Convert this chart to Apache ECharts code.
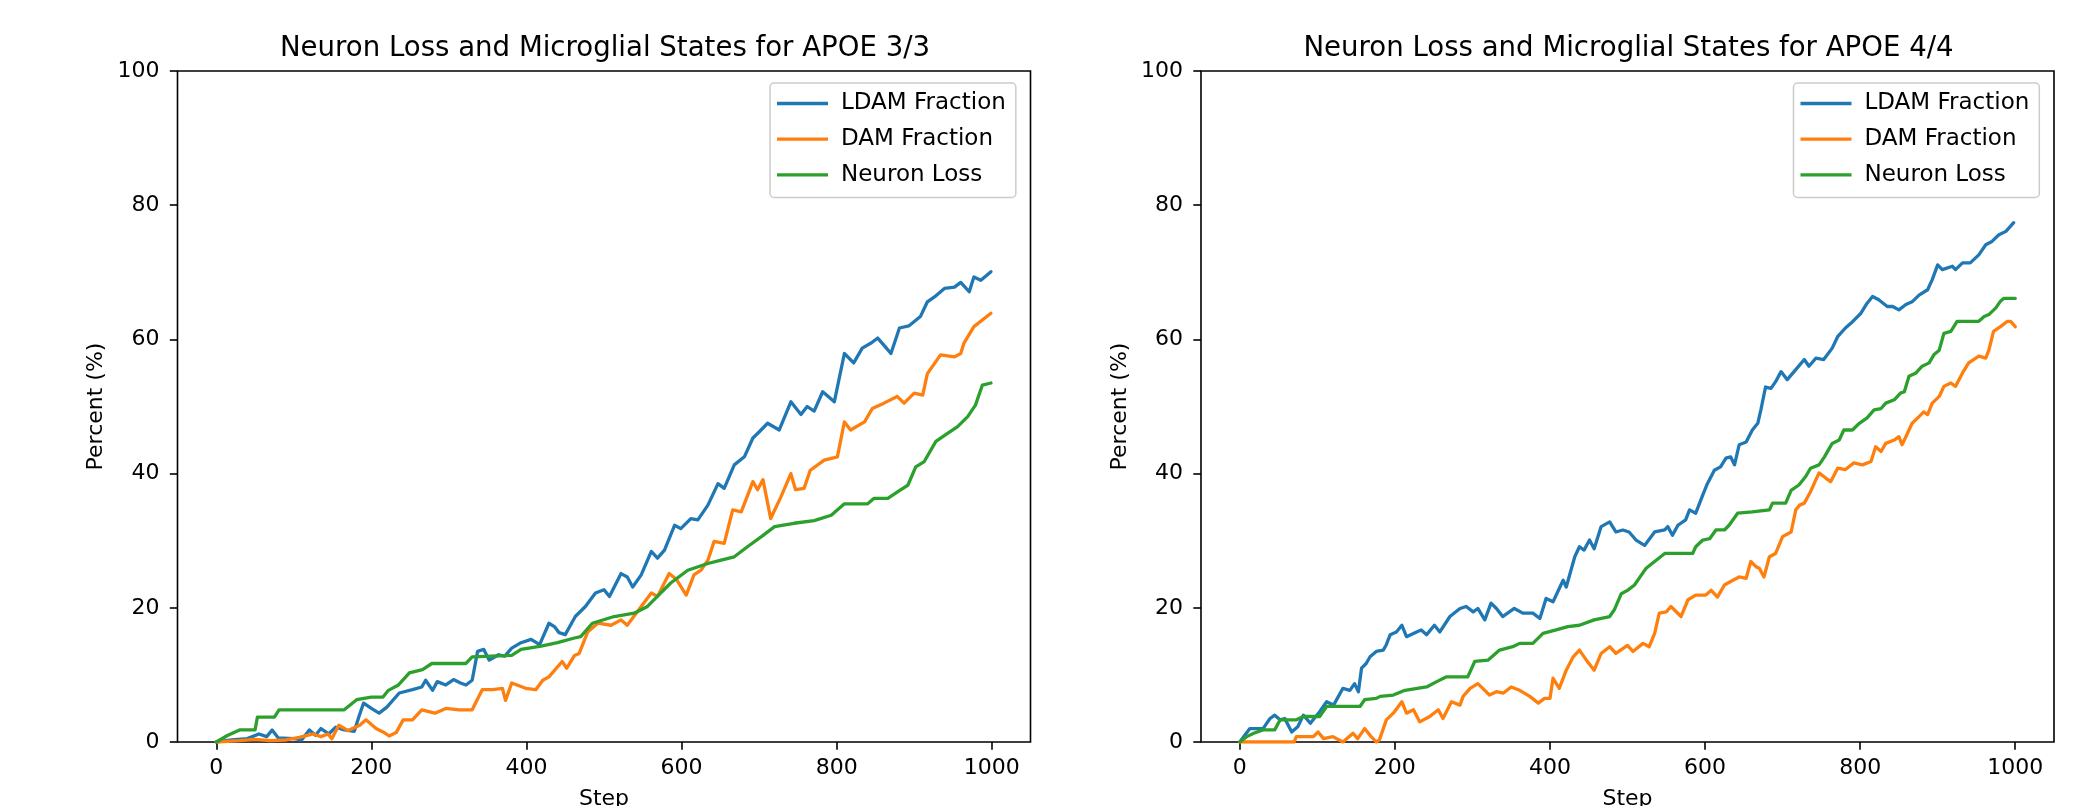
<!DOCTYPE html>
<html>
<head>
<meta charset="utf-8">
<script src="https://cdn.jsdelivr.net/npm/echarts@6/dist/echarts.min.js"></script>
<style>
html,body{margin:0;padding:0;background:#fff;}
#chart{width:2090px;height:806px;}
</style>
</head>
<body>
<div id="chart"></div>
<script>
// ---------- Titles / labels ----------
const titles = ['Neuron Loss and Microglial States for APOE 3/3', 'Neuron Loss and Microglial States for APOE 4/4'];
const seriesNames = ['LDAM Fraction', 'DAM Fraction', 'Neuron Loss'];
const xTickValues = [0, 200, 400, 600, 800, 1000];
const yTickValues = [0, 20, 40, 60, 80, 100];

// ---------- APOE 3/3 ----------
const ldam33Steps = [0,20,40,55,65,72,80,100,110,120,128,135,145,154,165,178,184,190,200,210,220,236,253,265,270,279,285,296,306,315,322,330,337,345,352,364,372,381,393,406,417,429,436,442,450,463,476,489,500,507,522,530,537,548,561,569,578,591,599,612,621,634,647,655,668,681,692,700,711,726,741,754,762,771,782,797,810,822,833,845,853,862,870,881,893,908,917,928,939,952,960,971,977,986,999];
const ldam33 = [0,0.3,0.5,1.2,0.8,1.8,0.6,0.5,0.3,1.8,1.0,2.0,1.2,2.2,1.8,1.6,3.8,5.8,5.0,4.3,5.2,7.3,7.8,8.2,9.2,7.7,9.0,8.5,9.3,8.8,8.5,9.2,13.5,13.8,12.2,13.0,12.8,14.0,14.8,15.3,14.5,17.7,17.2,16.3,16.0,18.7,20.2,22.2,22.7,21.7,25.1,24.6,23.1,24.9,28.4,27.4,28.6,32.3,31.8,33.3,33.1,35.3,38.5,37.8,41.3,42.5,45.3,46.2,47.5,46.5,50.7,48.8,50.0,49.3,52.2,50.7,57.9,56.5,58.7,59.5,60.2,59.0,57.9,61.7,62.0,63.4,65.6,66.5,67.6,67.8,68.5,67.1,69.3,68.8,70.1];

const dam33Steps = [0,30,50,70,90,107,125,135,144,149,158,170,185,193,206,215,223,232,241,253,265,282,296,313,330,343,356,369,373,381,399,412,421,429,446,452,462,468,479,492,509,522,530,548,561,569,584,593,606,616,625,634,642,655,666,677,692,698,705,715,728,741,747,758,766,784,801,810,818,836,846,861,878,887,900,911,917,934,952,960,964,977,999];
const dam33 = [0,0.2,0.4,0.2,0.3,0.7,1.2,0.8,1.2,0.5,2.5,1.7,2.5,3.3,2.0,1.5,0.9,1.4,3.3,3.3,4.8,4.3,5.0,4.8,4.8,7.8,7.8,8.0,6.2,8.8,8.0,7.8,9.2,9.7,12.0,11.0,12.9,13.2,16.4,17.7,17.4,18.2,17.4,20.2,22.2,21.7,25.1,24.3,21.9,24.9,25.6,27.1,29.9,29.6,34.6,34.3,38.8,37.6,39.1,33.3,36.5,40.0,37.6,37.8,40.5,42.0,42.5,47.7,46.5,47.7,49.7,50.5,51.5,50.5,52.0,51.7,54.9,57.7,57.4,57.9,59.4,61.9,63.9];

const loss33Steps = [0,15,30,50,53,75,81,165,181,200,215,222,235,249,266,278,322,330,381,393,419,440,462,470,485,513,539,556,573,586,608,634,651,668,685,703,720,745,771,793,810,840,848,866,879,892,902,913,928,943,956,969,979,988,999];
const loss33 = [0,1.0,1.8,1.8,3.7,3.7,4.8,4.8,6.3,6.7,6.7,7.7,8.5,10.3,10.8,11.7,11.7,12.7,12.9,13.8,14.3,14.8,15.5,15.7,17.7,18.7,19.2,20.2,22.2,23.7,25.6,26.6,27.1,27.6,29.1,30.6,32.1,32.6,33.0,33.8,35.5,35.5,36.3,36.3,37.3,38.3,41.0,41.8,44.8,46.0,47.0,48.5,50.2,53.2,53.5];

// ---------- APOE 4/4 ----------
const ldam44Steps = [0,13,30,39,45,52,58,67,75,82,91,103,112,121,133,142,148,153,157,163,168,176,185,189,194,202,209,215,228,234,241,251,258,271,284,292,301,307,316,324,331,339,354,365,378,387,395,404,417,421,432,438,444,451,457,466,477,485,494,502,511,522,535,548,552,558,565,575,580,588,597,603,612,620,627,633,638,644,653,661,668,672,678,685,691,698,706,717,728,734,743,753,764,771,781,788,801,809,816,824,835,842,850,859,867,876,887,893,900,906,919,923,932,942,953,962,970,979,988,998];
const ldam44 = [0,2.0,2.0,3.5,4.0,3.3,3.5,1.5,2.3,4.0,2.8,4.5,6.0,5.5,8.0,7.7,8.7,7.5,11.0,11.7,12.7,13.5,13.7,14.5,16.0,16.4,17.4,15.7,16.4,16.7,16.0,17.4,16.4,18.7,19.9,20.2,19.4,19.9,18.2,20.7,19.9,18.7,19.9,19.2,19.2,18.4,21.4,20.9,24.1,23.1,27.6,29.1,28.6,30.1,28.8,32.1,32.8,31.3,31.6,31.3,30.1,29.3,31.3,31.6,32.1,30.8,32.3,33.1,34.6,34.1,36.8,38.5,40.5,41.0,42.3,42.5,41.3,44.3,44.7,46.5,47.5,49.5,52.9,52.7,53.7,55.2,54.0,55.5,57.0,56.0,57.2,57.0,58.7,60.4,61.7,62.4,63.9,65.4,66.4,65.9,64.9,64.9,64.4,65.2,65.6,66.6,67.4,68.9,71.1,70.4,70.9,70.4,71.4,71.4,72.6,74.1,74.6,75.6,76.1,77.4];

const dam44Steps = [0,30,70,73,95,101,108,120,133,146,152,161,168,176,180,189,198,209,215,224,232,245,256,262,273,284,288,297,307,316,322,331,340,350,361,374,385,393,400,404,412,421,430,438,447,457,466,477,485,500,507,520,528,535,541,550,556,569,578,588,601,608,616,625,636,644,653,659,666,670,676,683,691,700,711,717,722,728,736,743,747,756,762,771,781,792,803,814,820,827,833,844,850,854,859,867,876,882,887,893,902,908,917,923,932,940,953,962,966,972,981,990,994,1000];
const dam44 = [0,0,0,0.8,0.8,1.5,0.5,0.8,0,1.3,0.5,2.0,1.0,0,0.3,3.3,4.3,6.0,4.3,4.8,3.0,3.8,4.8,3.5,6.0,5.5,6.8,8.0,8.7,7.7,7.0,7.5,7.3,8.2,7.7,6.8,5.8,6.5,6.5,9.5,8.0,10.7,12.7,13.7,12.2,10.7,13.2,14.2,13.2,14.4,13.5,14.7,14.2,16.2,19.2,19.4,20.2,18.7,21.2,21.9,21.9,22.6,21.6,23.4,24.1,24.6,24.4,26.9,26.1,25.9,24.6,27.6,28.1,30.6,31.3,34.6,35.3,35.6,37.3,39.1,40.1,39.3,38.8,40.8,40.6,41.6,41.3,41.8,44.0,43.3,44.5,45.0,45.5,44.3,45.5,47.5,48.5,49.2,48.8,50.5,51.5,53.0,53.5,53.0,55.0,56.5,57.5,57.2,58.4,61.2,61.9,62.7,62.7,61.9];

const loss44Steps = [0,9,18,30,45,52,73,82,103,112,155,161,176,181,198,213,241,254,266,294,303,320,335,352,361,378,391,408,423,438,457,477,483,492,500,509,518,524,535,548,584,588,597,606,614,625,631,642,661,683,687,704,711,721,730,736,747,754,764,773,779,790,799,809,818,827,833,844,852,857,863,872,880,889,895,902,908,917,925,953,960,966,975,981,985,1000];
const loss44 = [0,0.8,1.3,1.8,1.8,3.3,3.3,3.8,3.8,5.3,5.3,6.3,6.5,6.8,7.0,7.7,8.2,9.0,9.7,9.7,12.0,12.2,13.7,14.2,14.7,14.7,16.2,16.7,17.2,17.4,18.2,18.7,19.7,22.1,22.6,23.4,24.9,25.9,26.9,28.1,28.1,29.1,30.1,30.3,31.6,31.6,32.3,34.1,34.3,34.6,35.6,35.6,37.5,38.3,39.6,40.8,41.3,42.5,44.5,45.0,46.5,46.5,47.5,48.3,49.5,49.7,50.5,51.0,52.0,52.2,54.5,55.0,56.0,56.5,57.7,58.4,60.9,61.2,62.7,62.7,63.4,63.7,64.7,65.7,66.1,66.1];

const colors = ['#1f77b4', '#ff7f0e', '#2ca02c'];

// ---------- build ----------
function pairs(xs, ys) { return xs.map((x, i) => [x, ys[i]]); }
const panels = [
  [pairs(ldam33Steps, ldam33), pairs(dam33Steps, dam33), pairs(loss33Steps, loss33)],
  [pairs(ldam44Steps, ldam44), pairs(dam44Steps, dam44), pairs(loss44Steps, loss44)]
];

const FONT = 'DejaVu Sans';
const gridLefts = [177.5, 1201];
const gridW = 853, gridTop = 71, gridH = 671;

const option = {
  animation: false,
  backgroundColor: '#ffffff',
  textStyle: { fontFamily: FONT },
  title: titles.map((t, i) => ({
    text: t,
    left: gridLefts[i] + gridW / 2 - 4,
    top: 30,
    textAlign: 'center',
    textStyle: { fontFamily: FONT, fontSize: 27.6, fontWeight: 'normal', color: '#000' }
  })),
  legend: [0, 1].map(i => ({
    data: seriesNames,
    orient: 'vertical',
    left: gridLefts[i] + 592.5,
    top: 83,
    padding: [9, 10, 11, 7],
    itemWidth: 51,
    itemHeight: 3.3,
    itemGap: 12.7,
    icon: 'rect',
    backgroundColor: 'rgba(255,255,255,0.8)',
    borderColor: '#cccccc',
    borderWidth: 1.5,
    borderRadius: 4,
    textStyle: { fontFamily: FONT, fontSize: 23, color: '#000', lineHeight: 22, padding: [0, 0, 0, 8] },
    selectedMode: false
  })),
  grid: [0, 1].map(i => ({
    left: gridLefts[i], top: gridTop, width: gridW, height: gridH,
    outerBoundsMode: 'none', containLabel: false,
    show: true, borderColor: '#000', borderWidth: 1.6, backgroundColor: '#fff'
  })),
  xAxis: [0, 1].map(i => ({
    type: 'value', gridIndex: i, min: -50, max: 1050,
    name: 'Step', nameLocation: 'middle', nameGap: 46,
    nameTextStyle: { fontFamily: FONT, fontSize: 22, color: '#000' },
    axisLine: { show: false, onZero: false },
    axisTick: { show: true, length: 7.7, lineStyle: { color: '#000', width: 1.6 }, customValues: xTickValues },
    axisLabel: { fontFamily: FONT, fontSize: 22, color: '#000', margin: 15, customValues: xTickValues,
      formatter: v => String(v) },
    splitLine: { show: false }
  })),
  yAxis: [0, 1].map(i => ({
    type: 'value', gridIndex: i, min: 0, max: 100, interval: 20,
    name: 'Percent (%)', nameLocation: 'middle', nameGap: 70,
    nameTextStyle: { fontFamily: FONT, fontSize: 22, color: '#000' },
    axisLine: { show: false, onZero: false },
    axisTick: { show: true, length: 7.7, lineStyle: { color: '#000', width: 1.6 } },
    axisLabel: { fontFamily: FONT, fontSize: 22, color: '#000', margin: 18, formatter: v => String(v) },
    splitLine: { show: false }
  })),
  series: []
};

panels.forEach((panel, gi) => {
  panel.forEach((data, si) => {
    option.series.push({
      name: seriesNames[si],
      type: 'line',
      xAxisIndex: gi, yAxisIndex: gi,
      data: data,
      showSymbol: false, symbol: 'none',
      color: colors[si],
      lineStyle: { width: 3.3, color: colors[si], join: 'round', cap: 'round' },
      emphasis: { disabled: true },
      z: 2 + si
    });
  });
});

const chart = echarts.init(document.getElementById('chart'), null, { renderer: 'canvas' });
chart.setOption(option);
</script>
</body>
</html>
